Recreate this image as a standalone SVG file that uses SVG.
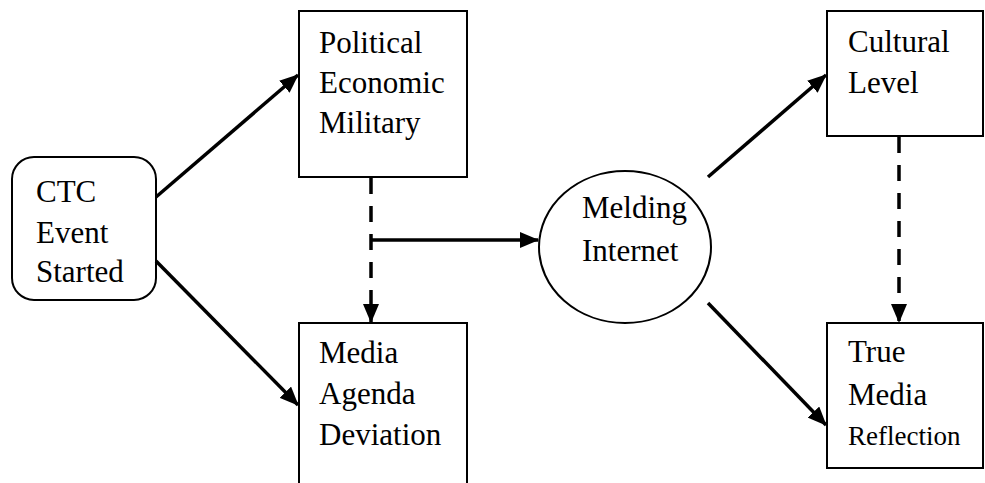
<svg xmlns="http://www.w3.org/2000/svg" width="985" height="483" viewBox="0 0 985 483">
<style>
.box{fill:#fff;stroke:#000;stroke-width:2}
.t{font-family:"Liberation Serif","Times New Roman",serif;font-size:31px;fill:#000}
.s{font-size:27px}
.c{stroke:#000;stroke-width:3.5;fill:none}
.d{stroke-dasharray:16 12}
</style>
<defs>
<marker id="ah" markerUnits="userSpaceOnUse" markerWidth="20" markerHeight="16" refX="18" refY="8" orient="auto">
<path d="M0,0 L19,8 L0,16 Z" fill="#000"/>
</marker>
</defs>
<rect width="985" height="483" fill="#fff"/>
<g id="ctc">
<rect class="box" x="12" y="157" width="144" height="143" rx="22"/>
<text class="t" x="36" y="202">CTC</text>
<text class="t" x="36" y="243">Event</text>
<text class="t" x="36" y="282">Started</text>
</g>
<g id="pem">
<rect class="box" x="299" y="11" width="168" height="166"/>
<text class="t" x="319" y="53">Political</text>
<text class="t" x="319" y="93">Economic</text>
<text class="t" x="319" y="133">Military</text>
</g>
<g id="mad">
<rect class="box" x="299" y="323" width="168" height="175"/>
<text class="t" x="319" y="363">Media</text>
<text class="t" x="319" y="404">Agenda</text>
<text class="t" x="319" y="445">Deviation</text>
</g>
<g id="mi">
<ellipse class="box" cx="625" cy="247" rx="86" ry="76"/>
<text class="t" x="582" y="218">Melding</text>
<text class="t" x="582" y="261">Internet</text>
</g>
<g id="cl">
<rect class="box" x="827" y="11" width="156" height="125"/>
<text class="t" x="848" y="52">Cultural</text>
<text class="t" x="848" y="93">Level</text>
</g>
<g id="tmr">
<rect class="box" x="827" y="323" width="156" height="145"/>
<text class="t" x="848" y="362">True</text>
<text class="t" x="848" y="405">Media</text>
<text class="t s" x="848" y="445">Reflection</text>
</g>
<g id="connectors">
<line class="c" x1="156" y1="197" x2="298" y2="75" marker-end="url(#ah)"/>
<line class="c" x1="156" y1="261" x2="298" y2="405" marker-end="url(#ah)"/>
<line class="c d" x1="371" y1="178" x2="371" y2="322" marker-end="url(#ah)"/>
<line class="c" x1="371" y1="240" x2="538" y2="240" marker-end="url(#ah)"/>
<line class="c" x1="708" y1="177" x2="826" y2="75" marker-end="url(#ah)"/>
<line class="c" x1="708" y1="303" x2="826" y2="425" marker-end="url(#ah)"/>
<line class="c d" x1="899" y1="137" x2="899" y2="322" marker-end="url(#ah)"/>
</g>
</svg>
